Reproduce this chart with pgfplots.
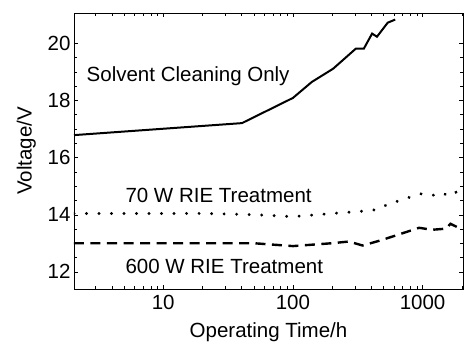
\documentclass[border=0pt]{standalone}
\usepackage{pgfplots}
\pgfplotsset{compat=1.18}
\usepackage{fontspec}
\setmainfont{Liberation Sans}
\newcommand{\bigf}{\fontsize{20.5}{24}\selectfont}
\begin{document}
\begin{tikzpicture}
\begin{axis}[
  name=ax,
  scale only axis,
  width=389pt, height=276pt,
  xmode=log,
  xmin=2.05, xmax=2050,
  ymin=11.4, ymax=21.05,
  xtick={10,100,1000},
  xticklabels={10,100,1000},
  minor xtick={3,4,5,6,7,8,9,20,30,40,50,60,70,80,90,200,300,400,500,600,700,800,900,2000},
  ytick={12,14,16,18,20},
  minor y tick num=3,
  every tick/.append style={black},
  /pgf/number format/assume math mode=true,
  tick label style={font=\bigf},
  xticklabel style={yshift=-3pt},
  label style={font=\bigf},
  xlabel={Operating Time/h},
  ylabel={Voltage/V},
  xlabel style={yshift=-6pt},
  ylabel style={yshift=5pt},
]
\addplot[black, line width=3.2pt, line cap=round, dash pattern=on 0.01pt off 12.5pt] coordinates {
 (2.05,14.04) (20,14.04) (50,14.0) (100,13.93) (200,14.04) (365,14.13) (450,14.18)
 (555,14.39) (680,14.5) (830,14.64) (1000,14.74) (1170,14.69) (1420,14.64)
 (1640,14.85) (1870,14.76)
};
\addplot[black, line width=2.4pt, dash pattern=on 10pt off 6.5pt] coordinates {
 (2.05,13.0) (20,13.0) (50,13.0) (100,12.9) (200,13.0) (270,13.06) (345,12.92)
 (475,13.1) (680,13.33) (940,13.54) (1180,13.47) (1520,13.51) (1640,13.68)
 (1800,13.59) (1950,13.51)
};
\addplot[black, line width=2pt, solid] coordinates {
 (2.05,16.78) (40.5,17.2) (100,18.08) (140,18.64) (204,19.1) (305,19.8) (352,19.8)
 (408,20.33) (445,20.22) (538,20.71) (615,20.82)
};
\node[anchor=west, font=\bigf, inner sep=0pt] at (axis cs:2.56,18.85) {Solvent Cleaning Only};
\node[anchor=west, font=\bigf, inner sep=0pt] at (axis cs:5.1,14.68) {70 W RIE Treatment};
\node[anchor=west, font=\bigf, inner sep=0pt] at (axis cs:5.1,12.19) {600 W RIE Treatment};
\end{axis}
\path (ax.south west) ++(-74pt,-55pt) rectangle ++(468pt,344pt);
\end{tikzpicture}
\end{document}
